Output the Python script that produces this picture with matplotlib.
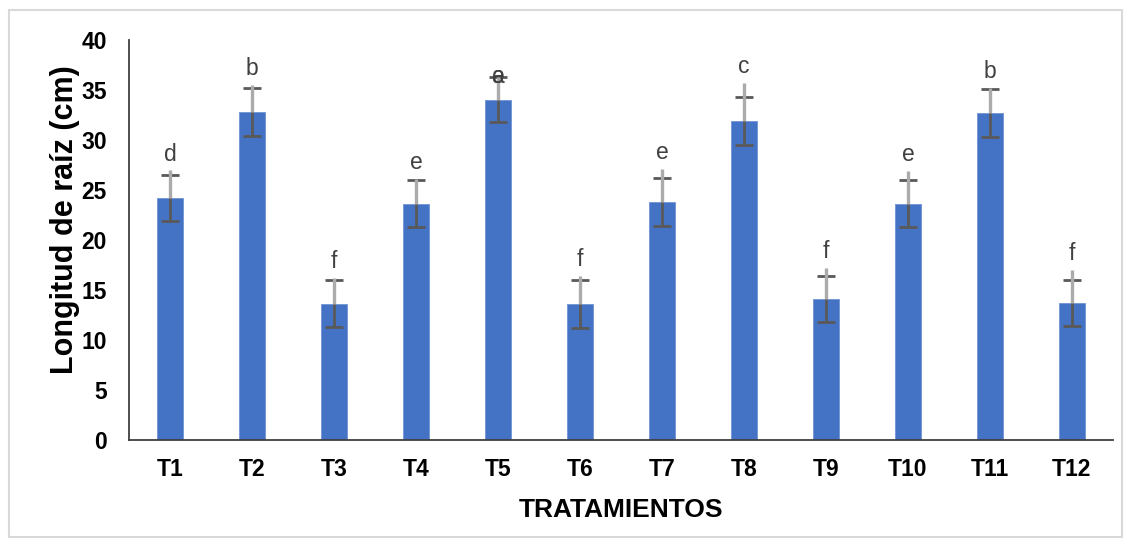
import matplotlib
matplotlib.use("Agg")
import matplotlib.pyplot as plt
import matplotlib.patches as patches
import numpy as np

# Datos del gráfico
tratamientos = ["T1", "T2", "T3", "T4", "T5", "T6", "T7", "T8", "T9", "T10", "T11", "T12"]
longitud = [24.15, 32.8, 13.6, 23.6, 34.0, 13.6, 23.8, 31.9, 14.1, 23.6, 32.7, 13.7]
error_sd = [2.3, 2.4, 2.35, 2.35, 2.25, 2.4, 2.4, 2.4, 2.3, 2.35, 2.4, 2.3]
error_sup = [2.8, 2.7, 2.6, 2.5, 2.3, 2.8, 3.3, 3.8, 3.1, 3.3, 2.5, 3.3]
letras = ["d", "b", "f", "e", "a", "f", "e", "c", "f", "e", "b", "f"]

plt.rcParams["font.family"] = ["Liberation Sans", "DejaVu Sans"]

fig = plt.figure(figsize=(11.31, 5.45), dpi=100)
ax = fig.add_axes([0.114, 0.193, 0.870, 0.734])

x = np.arange(len(tratamientos))
ax.bar(x, longitud, width=0.32, color="#4472C4", edgecolor="#6F93D3", linewidth=0.6, zorder=2)

# Barras de error (desviación) y barra superior gris clara
ax.errorbar(x, longitud, yerr=error_sd, fmt="none", ecolor="#595959",
            elinewidth=2.0, capsize=6.5, capthick=2.0, zorder=3)
ax.errorbar(x, longitud, yerr=[np.zeros(len(x)), error_sup], fmt="none",
            ecolor="#ABABAB", elinewidth=2.4, capsize=0, zorder=4)

# Letras de significancia
for i, (v, e, l) in enumerate(zip(longitud, error_sup, letras)):
    y = v + e + 1.6
    if l == "a":
        y = v + 2.3
        ax.text(i, y, "e", ha="center", va="center", fontsize=16.5, color="#404040", zorder=5)
    ax.text(i, y, l, ha="center", va="center", fontsize=16.5, color="#404040", zorder=5)

ax.set_xlim(-0.5, len(x) - 0.5)
ax.set_ylim(0, 40)
ax.set_yticks(np.arange(0, 41, 5))
ax.set_xticks(x)
ax.set_xticklabels(tratamientos)

for s in ["top", "right"]:
    ax.spines[s].set_visible(False)
for s in ["left", "bottom"]:
    ax.spines[s].set_color("#404040")
    ax.spines[s].set_linewidth(1.3)

ax.tick_params(axis="both", length=0, labelsize=16.5)
ax.tick_params(axis="y", pad=16)
ax.tick_params(axis="x", pad=13)
for t in ax.get_xticklabels() + ax.get_yticklabels():
    t.set_fontweight("bold")

ax.set_xlabel("TRATAMIENTOS", fontsize=19, fontweight="bold", labelpad=12)
ax.set_ylabel("Longitud de raíz (cm)", fontsize=22, fontweight="bold")
ax.yaxis.set_label_coords(-0.05, 0.55)

# Borde gris del gráfico
fig.patches.append(patches.Rectangle((9 / 1131, 8 / 545), 1113 / 1131, 527 / 545,
                                     transform=fig.transFigure, fill=False,
                                     edgecolor="#D9D9D9", linewidth=1.5))

fig.savefig("out.png", dpi=100)
